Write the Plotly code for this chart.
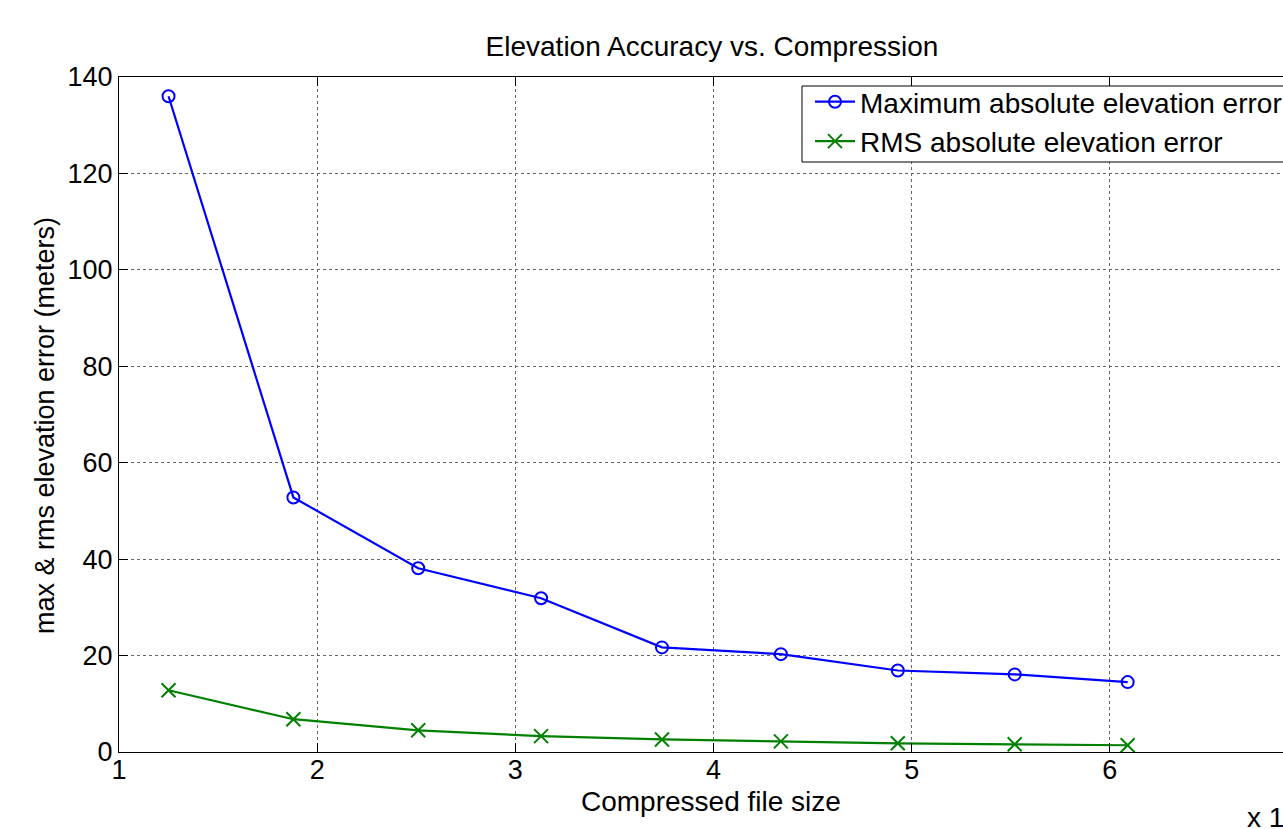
import plotly.graph_objects as go

# Data (compressed file size in units of 1e5)
file_size = [1.25, 1.88, 2.51, 3.13, 3.74, 4.34, 4.93, 5.52, 6.09]
max_err = [136.0, 52.8, 38.1, 31.9, 21.7, 20.3, 16.9, 16.1, 14.5]
rms_err = [12.8, 6.8, 4.5, 3.3, 2.6, 2.2, 1.8, 1.6, 1.4]

x_ticks = [1, 2, 3, 4, 5, 6, 7]
y_ticks = [0, 20, 40, 60, 80, 100, 120, 140]

FONT = "Liberation Sans, Arial, Helvetica, sans-serif"

fig = go.Figure()
fig.add_trace(go.Scatter(
    x=file_size, y=max_err, mode="lines+markers",
    name="Maximum absolute elevation error",
    line=dict(color="#0000FF", width=2.2),
    marker=dict(symbol="circle-open", size=12, color="#0000FF", line=dict(width=2)),
))
fig.add_trace(go.Scatter(
    x=file_size, y=rms_err, mode="lines+markers",
    name="RMS absolute elevation error",
    line=dict(color="#008000", width=2.2),
    marker=dict(symbol="x-thin-open", size=14, color="#008000", line=dict(width=2, color="#008000")),
))

# Figure is wider than the window (the reference is cropped on the right)
W, H = 1400, 829
L, T, B = 119, 77, 77
PR = 1308  # plot right edge in px
R = W - PR
PW = PR - L
PH = H - T - B

def px_x(p):
    return (p - L) / PW

def px_y(p):
    return (H - B - p) / PH

fig.update_layout(
    width=W, height=H,
    margin=dict(l=L, r=R, t=T, b=B, autoexpand=False),
    paper_bgcolor="white", plot_bgcolor="white",
    font=dict(family=FONT, size=26, color="black"),
    title=dict(text="Elevation Accuracy vs. Compression", x=712 / W,
               xanchor="center", y=1 - 46 / H, yanchor="middle", yref="container",
               font=dict(size=28, family=FONT, color="black")),
    showlegend=True,
    legend=dict(x=px_x(810), xanchor="left", y=px_y(77), yanchor="top",
                bgcolor="rgba(0,0,0,0)", borderwidth=0,
                font=dict(size=28, family=FONT, color="black"),
                itemwidth=40, tracegroupgap=0),
)

# legend box
fig.add_shape(type="rect", xref="paper", yref="paper",
              x0=px_x(802), x1=px_x(1300), y0=px_y(162), y1=px_y(86),
              line=dict(color="black", width=1), fillcolor="white", layer="above")

fig.update_xaxes(
    range=[1, 7], tickvals=x_ticks, ticktext=[str(v) for v in x_ticks],
    showline=True, linecolor="black", linewidth=1, mirror="ticks",
    ticks="inside", ticklen=9, tickcolor="black", tickwidth=1,
    showgrid=True, gridcolor="#666666", gridwidth=1, griddash="dot",
    zeroline=False, tickfont=dict(size=27, family=FONT, color="black"),
    ticklabelstandoff=-6,
)
fig.update_yaxes(
    range=[0, 140], tickvals=y_ticks, ticktext=[str(v) for v in y_ticks],
    showline=True, linecolor="black", linewidth=1, mirror="ticks",
    ticks="inside", ticklen=9, tickcolor="black", tickwidth=1,
    showgrid=True, gridcolor="#666666", gridwidth=1, griddash="dot",
    zeroline=False, tickfont=dict(size=27, family=FONT, color="black"),
)

fig.add_annotation(text="Compressed file size", xref="paper", yref="paper",
                   x=px_x(711), y=px_y(801), xanchor="center", yanchor="middle",
                   showarrow=False, font=dict(size=28, family=FONT, color="black"))
fig.add_annotation(text="max & rms elevation error (meters)", xref="paper", yref="paper",
                   x=px_x(45), y=px_y(426), xanchor="center", yanchor="middle", textangle=-90,
                   showarrow=False, font=dict(size=27, family=FONT, color="black"))
fig.add_annotation(text="x 10<sup>5</sup>", xref="paper", yref="paper",
                   x=px_x(1245), y=px_y(815), xanchor="left", yanchor="middle",
                   showarrow=False, font=dict(size=28, family=FONT, color="black"))

fig.write_html("out.html", config={"displayModeBar": False},
               post_script="document.body.style.margin='0';document.body.style.overflow='hidden';")
